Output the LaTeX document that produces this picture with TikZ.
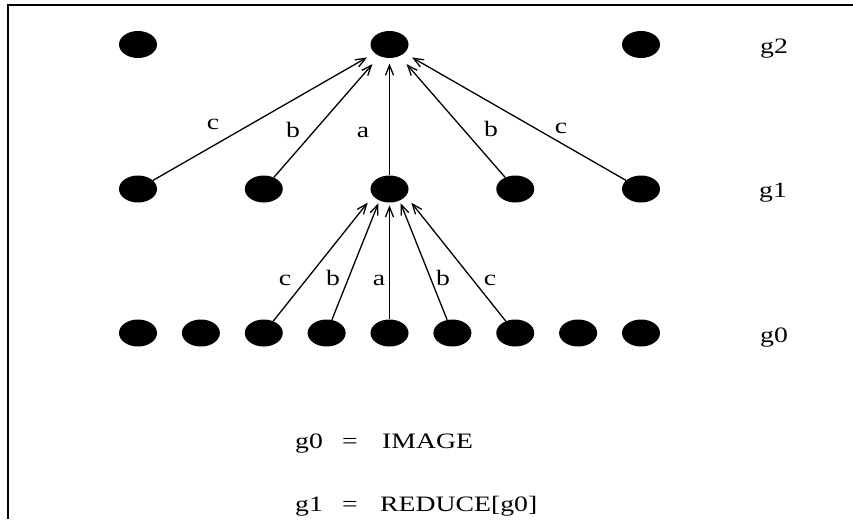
\documentclass[tikz,border=0pt]{standalone}
\usepackage{fontspec}
\setmainfont{Liberation Serif}
\usetikzlibrary{arrows.meta,shapes.geometric}
% text is set wide, as in the original plot
\newcommand\wide[1]{\scalebox{1.26}[1]{#1}}
\begin{document}
\begin{tikzpicture}[x=1pt,y=-1pt,
  dot/.style={ellipse,fill=black,minimum width=38pt,minimum height=27pt,inner sep=0pt},
  lbl/.style={font=\fontsize{22}{26}\selectfont,inner sep=0pt,anchor=base},
  lblw/.style={lbl,anchor=base west},
  edge/.style={line width=1.3pt,-{Straight Barb[length=10pt,width=8pt,line width=1.3pt]}},
  mid/.style={line width=1.7pt},
]
\useasboundingbox (0,0) rectangle (853,519);
% frame
\draw[line width=1.6pt] (8,519) -- (8,5) -- (853,5);

% level g0
\foreach \i in {0,...,8}
  \node[dot] (z\i) at ({138+62.875*\i},333) {};
% level g1
\foreach \j in {0,...,4}
  \node[dot] (o\j) at ({138+125.75*\j},189) {};
% level g2
\foreach \k in {0,1,2}
  \node[dot] (t\k) at ({138+251.5*\k},44.5) {};

% g1 -> g2
\draw[edge,shorten >=26pt] (o0) -- (t1.center);
\draw[edge,shorten >=26pt] (o1) -- (t1.center);
\draw[edge,mid,shorten >=19pt] (o2) -- (t1.center);
\draw[edge,shorten >=26pt] (o3) -- (t1.center);
\draw[edge,shorten >=26pt] (o4) -- (t1.center);

% g0 -> g1
\draw[edge,shorten >=35pt] (z2) -- (o2.north);
\draw[edge,shorten >=30pt] (z3) -- (o2.north);
\draw[edge,mid,shorten >=30pt] (z4) -- (o2.north);
\draw[edge,shorten >=30pt] (z5) -- (o2.north);
\draw[edge,shorten >=35pt] (z6) -- (o2.north);

% weights, upper fan
\node[lbl] (uc1) at (213,129) {\wide{c}};
\node[lbl] (ub1) at (293,137) {\wide{b}};
\node[lbl] (ua)  at (363,137) {\wide{a}};
\node[lbl] (ub2) at (491,136) {\wide{b}};
\node[lbl] (uc2) at (561,133) {\wide{c}};

% weights, lower fan
\node[lbl] (lc1) at (285,285) {\wide{c}};
\node[lbl] (lb1) at (333,285) {\wide{b}};
\node[lbl] (la)  at (379,285) {\wide{a}};
\node[lbl] (lb2) at (443,285) {\wide{b}};
\node[lbl] (lc2) at (490,285) {\wide{c}};

% level names
\node[lbl] (n2) at (774,53)  {\wide{g2}};
\node[lbl] (n1) at (773,197) {\wide{g1}};
\node[lbl] (n0) at (774,342) {\wide{g0}};

% definitions
\node[lblw] (d0l) at (295,448) {\wide{g0}};
\node[lbl]  (d0e) at (350,448) {\wide{=}};
\node[lblw] (d0r) at (382,448) {\wide{IMAGE}};
\node[lblw] (d1l) at (295,511) {\wide{g1}};
\node[lbl]  (d1e) at (350,511) {\wide{=}};
\node[lblw] (d1r) at (380,511) {\wide{REDUCE[g0]}};
\end{tikzpicture}
\end{document}
